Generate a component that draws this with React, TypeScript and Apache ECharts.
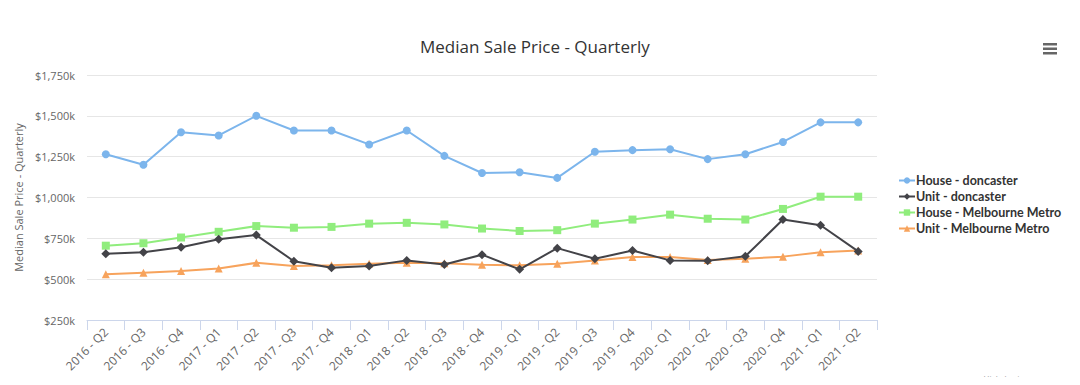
import React, { useEffect, useRef } from "react";
import * as echarts from "echarts";

const categories = [
  "2016 - Q2", "2016 - Q3", "2016 - Q4", "2017 - Q1", "2017 - Q2", "2017 - Q3", "2017 - Q4",
  "2018 - Q1", "2018 - Q2", "2018 - Q3", "2018 - Q4", "2019 - Q1", "2019 - Q2", "2019 - Q3",
  "2019 - Q4", "2020 - Q1", "2020 - Q2", "2020 - Q3", "2020 - Q4", "2021 - Q1", "2021 - Q2",
];

// values in $k
const houseDoncaster = [1265, 1200, 1400, 1380, 1500, 1410, 1410, 1325, 1410, 1255, 1150, 1155, 1120, 1280, 1290, 1295, 1235, 1265, 1340, 1460, 1460];
const unitDoncaster = [655, 665, 695, 745, 770, 610, 570, 580, 615, 590, 650, 560, 690, 625, 675, 615, 612, 640, 865, 830, 670];
const houseMelbourne = [705, 720, 755, 790, 825, 815, 820, 840, 845, 835, 810, 795, 800, 840, 865, 895, 870, 865, 930, 1005, 1005];
const unitMelbourne = [530, 540, 550, 565, 600, 580, 585, 595, 600, 598, 588, 585, 595, 615, 635, 635, 618, 625, 638, 665, 675];

const seriesNames = ["House - doncaster", "Unit - doncaster", "House - Melbourne Metro", "Unit - Melbourne Metro"];
const seriesColors = ["#7cb5ec", "#434348", "#90ed7d", "#f7a35c"];
const seriesSymbols = ["circle", "diamond", "rect", "triangle"];
const seriesData = [houseDoncaster, unitDoncaster, houseMelbourne, unitMelbourne];

const yMin = 250;
const yMax = 1750;
const yInterval = 250;

const titleText = "Median Sale Price - Quarterly";
const yAxisTitle = "Median Sale Price - Quarterly";
const creditsText = "Highcharts.com";

const FONT = "'Open Sans', 'DejaVu Sans', sans-serif";
const LEGEND_FONT = "Lato, 'Open Sans', sans-serif";

export default function App() {
  const ref = useRef<HTMLDivElement>(null);

  useEffect(() => {
    if (!ref.current) return;
    const chart = echarts.init(ref.current, undefined, { renderer: "svg" });
    chart.setOption({
      animation: false,
      backgroundColor: "#ffffff",
      textStyle: { fontFamily: FONT },
      title: {
        text: titleText,
        left: 415,
        top: 33,
        textStyle: { fontFamily: FONT, fontSize: 17, fontWeight: "normal", color: "#333333" },
      },
      legend: {
        orient: "vertical",
        left: 893,
        top: 169,
        itemWidth: 16,
        itemHeight: 8,
        itemGap: 3,
        data: seriesNames,
        textStyle: { fontFamily: LEGEND_FONT, fontSize: 12.5, fontWeight: "bold", color: "#333333", padding: [0, 0, 0, -4] },
      },
      grid: { left: 87, right: 203, top: 75, bottom: 65, containLabel: false },
      xAxis: {
        type: "category",
        data: categories,
        boundaryGap: true,
        axisLine: { lineStyle: { color: "#ccd6eb", width: 1 } },
        axisTick: { show: true, length: 10, lineStyle: { color: "#ccd6eb" } },
        axisLabel: {
          rotate: 45,
          interval: 0,
          margin: 10,
          fontFamily: FONT,
          fontSize: 12,
          color: "#666666",
        },
        splitLine: { show: false },
      },
      yAxis: {
        type: "value",
        min: yMin,
        max: yMax,
        interval: yInterval,
        name: yAxisTitle,
        nameLocation: "middle",
        nameRotate: 90,
        nameGap: 57,
        nameTextStyle: { fontFamily: FONT, fontSize: 11, color: "#666666" },
        axisLine: { show: false },
        axisTick: { show: false },
        axisLabel: {
          margin: 12,
          fontFamily: FONT,
          fontSize: 11,
          color: "#666666",
          formatter: (v: number) => "$" + v.toLocaleString("en-US") + "k",
        },
        splitLine: { lineStyle: { color: "#e6e6e6", width: 1 } },
      },
      series: seriesData.map((d, i) => ({
        name: seriesNames[i],
        type: "line",
        data: d,
        color: seriesColors[i],
        symbol: seriesSymbols[i],
        symbolSize: seriesSymbols[i] === "diamond" ? 9 : 8,
        showSymbol: true,
        lineStyle: { width: 2, color: seriesColors[i] },
        itemStyle: { color: seriesColors[i] },
        z: 4 - i,
      })),
      graphic: [
        { type: "rect", shape: { x: 1043, y: 43, width: 14, height: 2.5 }, style: { fill: "#666666" } },
        { type: "rect", shape: { x: 1043, y: 47.5, width: 14, height: 2.5 }, style: { fill: "#666666" } },
        { type: "rect", shape: { x: 1043, y: 52, width: 14, height: 2.5 }, style: { fill: "#666666" } },
        {
          type: "text",
          right: 38,
          top: 373,
          style: { text: creditsText, fontFamily: FONT, fontSize: 8, fill: "#999999" },
        },
      ],
    });
    return () => chart.dispose();
  }, []);

  return (
    <div style={{ margin: -8 }}>
      <div ref={ref} style={{ width: 1080, height: 385 }} />
    </div>
  );
}
